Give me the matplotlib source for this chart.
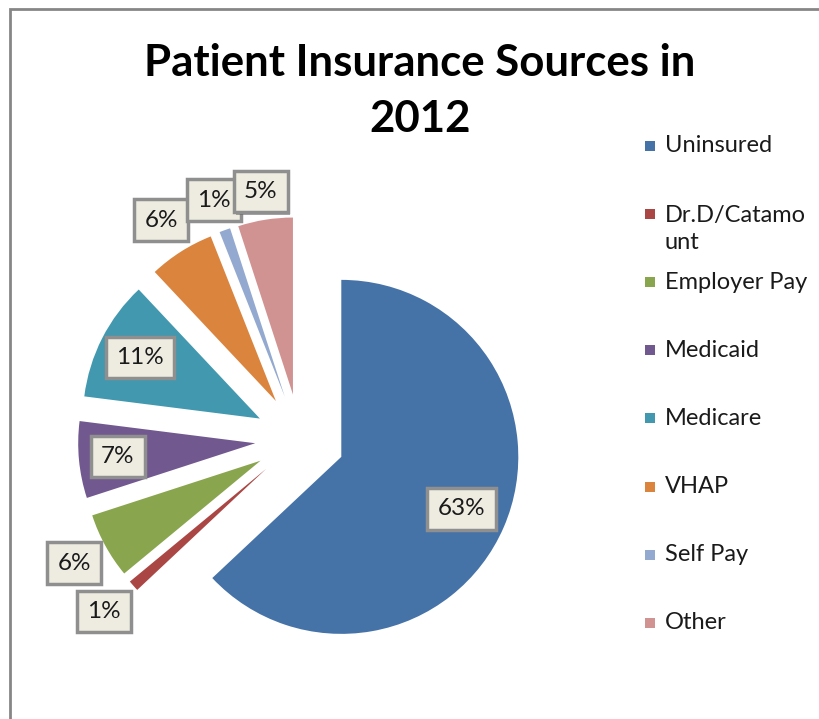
import numpy as np
import matplotlib.pyplot as plt
from matplotlib.patches import Rectangle
import matplotlib.patheffects as pe

# данные
labels = ['Uninsured', 'Dr.D/Catamount', 'Employer Pay', 'Medicaid',
          'Medicare', 'VHAP', 'Self Pay', 'Other']
legend_labels = ['Uninsured', 'Dr.D/Catamo\nunt', 'Employer Pay', 'Medicaid',
                 'Medicare', 'VHAP', 'Self Pay', 'Other']
shares = [63, 1, 6, 7, 11, 6, 1, 5]
colors = ['#4572A7', '#AA4643', '#89A54E', '#71588F',
          '#4198AF', '#DB843D', '#93A9CF', '#D19392']

# раскладка (пиксели)
W, H = 820, 719
R = 177
explode = [45] * len(shares)
pct_dist = [0.74, 1.22, 1.20, 0.78, 0.76, 1.21, 1.18, 1.16]

plt.rcParams['font.family'] = ['Lato', 'DejaVu Sans']

fig = plt.figure(figsize=(W / 100, H / 100), dpi=100)
ax = fig.add_axes([0, 0, 1, 1])

wedges, texts, autotexts = ax.pie(shares, colors=colors, radius=R,
                                  center=(300, H - 439), explode=explode,
                                  startangle=90, counterclock=False,
                                  autopct='%d%%', pctdistance=0.75,
                                  wedgeprops=dict(linewidth=0))

# подписи в рамках
for w, t, d in zip(wedges, autotexts, pct_dist):
    ang = np.deg2rad((w.theta1 + w.theta2) / 2)
    cx, cy = w.center
    t.set_position((cx + d * R * np.cos(ang), cy + d * R * np.sin(ang)))
    t.set_fontsize(17.5)
    t.set_color('#1a1a1a')
    t.set_ha('center')
    t.set_va('center')
    t.set_bbox(dict(boxstyle='square,pad=0.42', facecolor='#EEECE1',
                    edgecolor='#8f8f8f', linewidth=2.5))
    t.get_bbox_patch().set_path_effects([
        pe.SimplePatchShadow(offset=(1.5, -1.5), shadow_rgbFace='#555555', alpha=0.5),
        pe.Normal()])

ax.set_xlim(0, W)
ax.set_ylim(0, H)
ax.axis('off')

# рамка области диаграммы (видны только левая и верхняя стороны)
ax.plot([10, 10, W + 5], [-5, H - 9, H - 9], color='#868686', linewidth=2,
        solid_joinstyle='miter', clip_on=False)

# заголовок
ax.text(420, H - 91, 'Patient Insurance Sources in\n2012', ha='center', va='center',
        fontsize=31.5, fontweight='bold', color='black', linespacing=1.5)

# легенда
for i, (lab, col) in enumerate(zip(legend_labels, colors)):
    y = H - (146 + 68.1 * i)
    ax.add_patch(Rectangle((645, y - 5), 10, 10, facecolor=col, edgecolor='none'))
    extra = 15 if '\n' in lab else 0
    ax.text(665, y - extra, lab, ha='left', va='center',
            fontsize=17, color='#1a1a1a', linespacing=1.36)

fig.savefig('out.png', dpi=100)
